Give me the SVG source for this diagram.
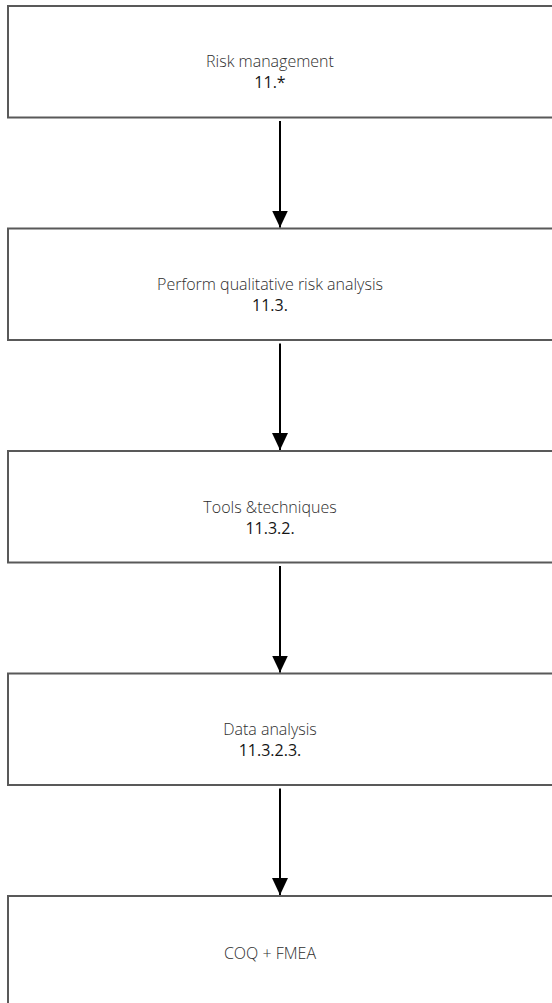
<svg xmlns="http://www.w3.org/2000/svg" width="552" height="1003" viewBox="0 0 552 1003">
  <defs>
    <marker id="arrow" markerWidth="17" markerHeight="16" refX="17" refY="8" orient="auto" markerUnits="userSpaceOnUse" viewBox="0 0 17 16">
      <path d="M0,0 L17,8 L0,16 Z" fill="#000"/>
    </marker>
    <style>
      .box { fill: #fff; stroke: #595959; stroke-width: 2; }
      .title { font-family: "Open Sans", "Liberation Sans", sans-serif; font-weight: 300; font-size: 16px; fill: #2e2e2e; text-anchor: middle; }
      .num { font-family: "Open Sans", "Liberation Sans", sans-serif; font-weight: 400; font-size: 16px; fill: #151515; text-anchor: middle; }
      .conn { stroke: #000; stroke-width: 2; fill: none; }
    </style>
  </defs>
  <rect width="552" height="1003" fill="#fff"/>
  <g id="n1">
    <rect class="box" x="8" y="6" width="560" height="111.5"/>
    <text class="title" x="270" y="67">Risk management</text>
    <text class="num" x="270" y="87.5">11.*</text>
  </g>
  <g id="n2">
    <rect class="box" x="8" y="228.5" width="560" height="111.5"/>
    <text class="title" x="270" y="290">Perform qualitative risk analysis</text>
    <text class="num" x="270" y="310.5">11.3.</text>
  </g>
  <g id="n3">
    <rect class="box" x="8" y="451" width="560" height="111.5"/>
    <text class="title" x="270" y="513">Tools &amp;techniques</text>
    <text class="num" x="270" y="533.5">11.3.2.</text>
  </g>
  <g id="n4">
    <rect class="box" x="8" y="673.5" width="560" height="111.5"/>
    <text class="title" x="270" y="735">Data analysis</text>
    <text class="num" x="270" y="755.5">11.3.2.3.</text>
  </g>
  <g id="n5">
    <rect class="box" x="8" y="896" width="560" height="120"/>
    <text class="title" x="270" y="958.5">COQ + FMEA</text>
  </g>
  <g id="connectors">
    <line class="conn" x1="280" y1="121" x2="280" y2="227.5" marker-end="url(#arrow)"/>
    <line class="conn" x1="280" y1="343.5" x2="280" y2="450" marker-end="url(#arrow)"/>
    <line class="conn" x1="280" y1="566" x2="280" y2="672.5" marker-end="url(#arrow)"/>
    <line class="conn" x1="280" y1="788.5" x2="280" y2="895" marker-end="url(#arrow)"/>
  </g>
</svg>
